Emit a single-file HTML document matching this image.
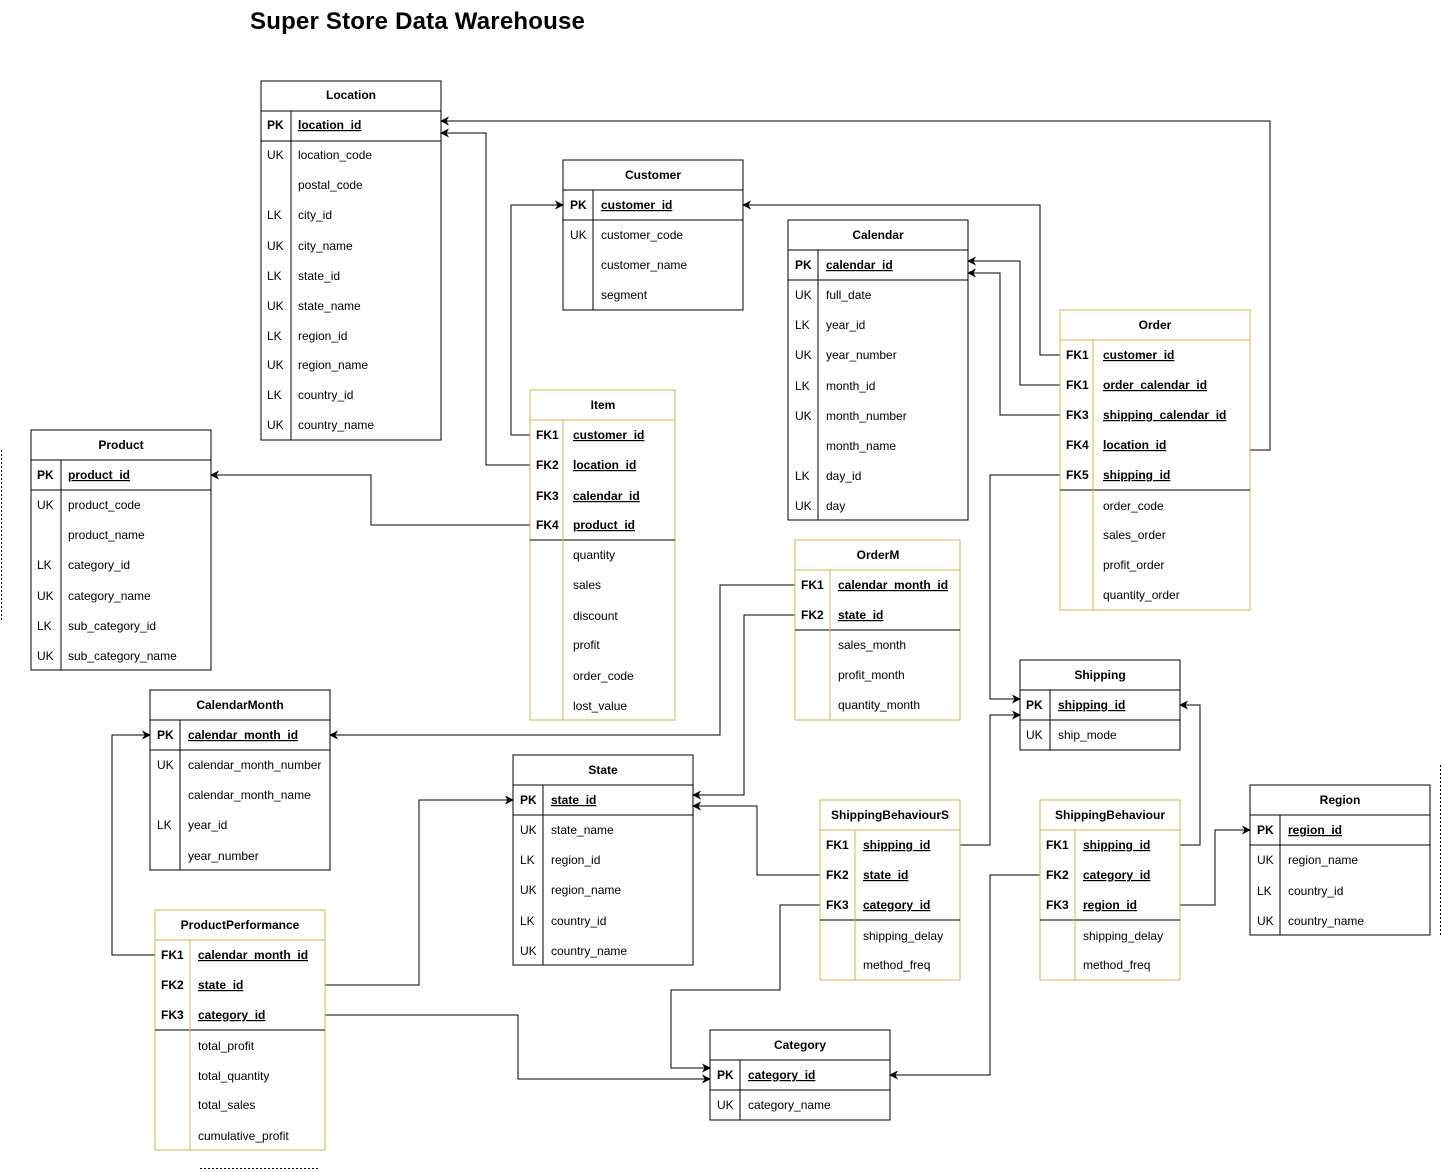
<!DOCTYPE html>
<html><head><meta charset="utf-8"><style>
html,body{margin:0;padding:0;background:#fff;}
svg{display:block;}
text{font-family:"Liberation Sans",Arial,sans-serif;font-size:12px;fill:#000;}
.h{font-weight:bold;text-anchor:middle;}
.k{font-weight:bold;}
.u{text-decoration:underline;font-weight:bold;}
.b{fill:none;stroke:#000;stroke-width:1;shape-rendering:crispEdges;}
.y{fill:none;stroke:#d6b656;stroke-width:1;shape-rendering:crispEdges;}
.c{fill:none;stroke:#000;stroke-width:1;marker-end:url(#a);shape-rendering:crispEdges;}
</style></head><body>
<svg width="1442" height="1172" viewBox="0 0 1442 1172" xmlns="http://www.w3.org/2000/svg">
<defs><marker id="a" viewBox="0 0 10 10" refX="9" refY="5" markerWidth="9" markerHeight="9" orient="auto" markerUnits="userSpaceOnUse"><path d="M0,0 L10,5 L0,10 L3,5 z" fill="#000"/></marker></defs>
<text x="250" y="29" style="font-size:24px;font-weight:bold;letter-spacing:0.2px">Super Store Data Warehouse</text>
<line x1="1.5" y1="450" x2="1.5" y2="620" stroke="#000" stroke-dasharray="2,2"/>
<line x1="1440.5" y1="765" x2="1440.5" y2="935" stroke="#000" stroke-dasharray="2,2"/>
<line x1="200" y1="1168.5" x2="318" y2="1168.5" stroke="#000" stroke-dasharray="2,2"/>

<!-- connectors -->
<polyline class="c" points="1250,450 1270,450 1270,121 441,121"/>
<polyline class="c" points="530,465 486,465 486,133 441,133"/>
<polyline class="c" points="530,435 511,435 511,205 563,205"/>
<polyline class="c" points="1060,355 1040,355 1040,205 743,205"/>
<polyline class="c" points="1060,385 1020,385 1020,261 968,261"/>
<polyline class="c" points="1060,415 1000,415 1000,273 968,273"/>
<polyline class="c" points="1060,475 990,475 990,699 1020,699"/>
<polyline class="c" points="530,525 371,525 371,475 211,475"/>
<polyline class="c" points="795,585 720,585 720,735 330,735"/>
<polyline class="c" points="795,615 744,615 744,795 693,795"/>
<polyline class="c" points="820,875 757,875 757,806 693,806"/>
<polyline class="c" points="960,845 990,845 990,715 1020,715"/>
<polyline class="c" points="820,905 780,905 780,990 671,990 671,1068 710,1068"/>
<polyline class="c" points="1180,845 1200,845 1200,705 1180,705"/>
<polyline class="c" points="1040,875 990,875 990,1075 890,1075"/>
<polyline class="c" points="1180,905 1215,905 1215,830 1250,830"/>
<polyline class="c" points="155,955 112,955 112,735 150,735"/>
<polyline class="c" points="325,985 419,985 419,800 513,800"/>
<polyline class="c" points="325,1015 518,1015 518,1079 710,1079"/>

<!-- Location -->
<rect x="261" y="81" width="180" height="359" fill="#fff" class="b"/>
<line class="b" x1="261" y1="111" x2="441" y2="111"/><line class="b" x1="261" y1="141" x2="441" y2="141"/><line class="b" x1="291" y1="111" x2="291" y2="440"/>
<text class="h" x="351" y="99">Location</text>
<text class="k" x="267" y="129">PK</text><text class="u" x="298" y="129">location_id</text>
<text x="267" y="159">UK</text><text x="298" y="159">location_code</text>
<text x="298" y="189">postal_code</text>
<text x="267" y="219">LK</text><text x="298" y="219">city_id</text>
<text x="267" y="250">UK</text><text x="298" y="250">city_name</text>
<text x="267" y="280">LK</text><text x="298" y="280">state_id</text>
<text x="267" y="310">UK</text><text x="298" y="310">state_name</text>
<text x="267" y="340">LK</text><text x="298" y="340">region_id</text>
<text x="267" y="369">UK</text><text x="298" y="369">region_name</text>
<text x="267" y="399">LK</text><text x="298" y="399">country_id</text>
<text x="267" y="429">UK</text><text x="298" y="429">country_name</text>

<!-- Customer -->
<rect x="563" y="160" width="180" height="150" fill="#fff" class="b"/>
<line class="b" x1="563" y1="190" x2="743" y2="190"/><line class="b" x1="563" y1="220" x2="743" y2="220"/><line class="b" x1="593" y1="190" x2="593" y2="310"/>
<text class="h" x="653" y="179">Customer</text>
<text class="k" x="570" y="209">PK</text><text class="u" x="601" y="209">customer_id</text>
<text x="570" y="239">UK</text><text x="601" y="239">customer_code</text>
<text x="601" y="269">customer_name</text>
<text x="601" y="299">segment</text>

<!-- Calendar -->
<rect x="788" y="220" width="180" height="300" fill="#fff" class="b"/>
<line class="b" x1="788" y1="250" x2="968" y2="250"/><line class="b" x1="788" y1="280" x2="968" y2="280"/><line class="b" x1="818" y1="250" x2="818" y2="520"/>
<text class="h" x="878" y="239">Calendar</text>
<text class="k" x="795" y="269">PK</text><text class="u" x="826" y="269">calendar_id</text>
<text x="795" y="299">UK</text><text x="826" y="299">full_date</text>
<text x="795" y="329">LK</text><text x="826" y="329">year_id</text>
<text x="795" y="359">UK</text><text x="826" y="359">year_number</text>
<text x="795" y="390">LK</text><text x="826" y="390">month_id</text>
<text x="795" y="420">UK</text><text x="826" y="420">month_number</text>
<text x="826" y="450">month_name</text>
<text x="795" y="480">LK</text><text x="826" y="480">day_id</text>
<text x="795" y="510">UK</text><text x="826" y="510">day</text>

<!-- Order -->
<rect x="1060" y="310" width="190" height="300" fill="#fff" class="y"/>
<rect x="1060" y="310" width="190" height="30" fill="#fff2cc" class="y"/>
<line class="b" x1="1060" y1="490" x2="1250" y2="490"/><line class="y" x1="1093" y1="340" x2="1093" y2="610"/>
<text class="h" x="1155" y="329">Order</text>
<text class="k" x="1066" y="359">FK1</text><text class="u" x="1103" y="359">customer_id</text>
<text class="k" x="1066" y="389">FK1</text><text class="u" x="1103" y="389">order_calendar_id</text>
<text class="k" x="1066" y="419">FK3</text><text class="u" x="1103" y="419">shipping_calendar_id</text>
<text class="k" x="1066" y="449">FK4</text><text class="u" x="1103" y="449">location_id</text>
<text class="k" x="1066" y="479">FK5</text><text class="u" x="1103" y="479">shipping_id</text>
<text x="1103" y="510">order_code</text>
<text x="1103" y="539">sales_order</text>
<text x="1103" y="569">profit_order</text>
<text x="1103" y="599">quantity_order</text>

<!-- Item -->
<rect x="530" y="390" width="145" height="330" fill="#fff" class="y"/>
<rect x="530" y="390" width="145" height="30" fill="#fff2cc" class="y"/>
<line class="b" x1="530" y1="540" x2="675" y2="540"/><line class="y" x1="563" y1="420" x2="563" y2="720"/>
<text class="h" x="603" y="409">Item</text>
<text class="k" x="536" y="439">FK1</text><text class="u" x="573" y="439">customer_id</text>
<text class="k" x="536" y="469">FK2</text><text class="u" x="573" y="469">location_id</text>
<text class="k" x="536" y="500">FK3</text><text class="u" x="573" y="500">calendar_id</text>
<text class="k" x="536" y="529">FK4</text><text class="u" x="573" y="529">product_id</text>
<text x="573" y="559">quantity</text>
<text x="573" y="589">sales</text>
<text x="573" y="620">discount</text>
<text x="573" y="649">profit</text>
<text x="573" y="680">order_code</text>
<text x="573" y="710">lost_value</text>

<!-- Product -->
<rect x="31" y="430" width="180" height="240" fill="#fff" class="b"/>
<line class="b" x1="31" y1="460" x2="211" y2="460"/><line class="b" x1="31" y1="490" x2="211" y2="490"/><line class="b" x1="61" y1="460" x2="61" y2="670"/>
<text class="h" x="121" y="449">Product</text>
<text class="k" x="37" y="479">PK</text><text class="u" x="68" y="479">product_id</text>
<text x="37" y="509">UK</text><text x="68" y="509">product_code</text>
<text x="68" y="539">product_name</text>
<text x="37" y="569">LK</text><text x="68" y="569">category_id</text>
<text x="37" y="600">UK</text><text x="68" y="600">category_name</text>
<text x="37" y="630">LK</text><text x="68" y="630">sub_category_id</text>
<text x="37" y="660">UK</text><text x="68" y="660">sub_category_name</text>

<!-- OrderM -->
<rect x="795" y="540" width="165" height="180" fill="#fff" class="y"/>
<rect x="795" y="540" width="165" height="30" fill="#fff2cc" class="y"/>
<line class="b" x1="795" y1="630" x2="960" y2="630"/><line class="y" x1="830" y1="570" x2="830" y2="720"/>
<text class="h" x="878" y="559">OrderM</text>
<text class="k" x="801" y="589">FK1</text><text class="u" x="838" y="589">calendar_month_id</text>
<text class="k" x="801" y="619">FK2</text><text class="u" x="838" y="619">state_id</text>
<text x="838" y="649">sales_month</text>
<text x="838" y="679">profit_month</text>
<text x="838" y="709">quantity_month</text>

<!-- Shipping -->
<rect x="1020" y="660" width="160" height="90" fill="#fff" class="b"/>
<line class="b" x1="1020" y1="690" x2="1180" y2="690"/><line class="b" x1="1020" y1="720" x2="1180" y2="720"/><line class="b" x1="1050" y1="690" x2="1050" y2="750"/>
<text class="h" x="1100" y="679">Shipping</text>
<text class="k" x="1026" y="709">PK</text><text class="u" x="1058" y="709">shipping_id</text>
<text x="1026" y="739">UK</text><text x="1058" y="739">ship_mode</text>

<!-- CalendarMonth -->
<rect x="150" y="690" width="180" height="180" fill="#fff" class="b"/>
<line class="b" x1="150" y1="720" x2="330" y2="720"/><line class="b" x1="150" y1="750" x2="330" y2="750"/><line class="b" x1="180" y1="720" x2="180" y2="870"/>
<text class="h" x="240" y="709">CalendarMonth</text>
<text class="k" x="157" y="739">PK</text><text class="u" x="188" y="739">calendar_month_id</text>
<text x="157" y="769">UK</text><text x="188" y="769">calendar_month_number</text>
<text x="188" y="799">calendar_month_name</text>
<text x="157" y="829">LK</text><text x="188" y="829">year_id</text>
<text x="188" y="860">year_number</text>

<!-- State -->
<rect x="513" y="755" width="180" height="210" fill="#fff" class="b"/>
<line class="b" x1="513" y1="785" x2="693" y2="785"/><line class="b" x1="513" y1="815" x2="693" y2="815"/><line class="b" x1="543" y1="785" x2="543" y2="965"/>
<text class="h" x="603" y="774">State</text>
<text class="k" x="520" y="804">PK</text><text class="u" x="551" y="804">state_id</text>
<text x="520" y="834">UK</text><text x="551" y="834">state_name</text>
<text x="520" y="864">LK</text><text x="551" y="864">region_id</text>
<text x="520" y="894">UK</text><text x="551" y="894">region_name</text>
<text x="520" y="925">LK</text><text x="551" y="925">country_id</text>
<text x="520" y="955">UK</text><text x="551" y="955">country_name</text>

<!-- ShippingBehaviourS -->
<rect x="820" y="800" width="140" height="180" fill="#fff" class="y"/>
<rect x="820" y="800" width="140" height="30" fill="#fff2cc" class="y"/>
<line class="b" x1="820" y1="920" x2="960" y2="920"/><line class="y" x1="855" y1="830" x2="855" y2="980"/>
<text class="h" x="890" y="819">ShippingBehaviourS</text>
<text class="k" x="826" y="849">FK1</text><text class="u" x="863" y="849">shipping_id</text>
<text class="k" x="826" y="879">FK2</text><text class="u" x="863" y="879">state_id</text>
<text class="k" x="826" y="909">FK3</text><text class="u" x="863" y="909">category_id</text>
<text x="863" y="940">shipping_delay</text>
<text x="863" y="969">method_freq</text>

<!-- ShippingBehaviour -->
<rect x="1040" y="800" width="140" height="180" fill="#fff" class="y"/>
<rect x="1040" y="800" width="140" height="30" fill="#fff2cc" class="y"/>
<line class="b" x1="1040" y1="920" x2="1180" y2="920"/><line class="y" x1="1075" y1="830" x2="1075" y2="980"/>
<text class="h" x="1110" y="819">ShippingBehaviour</text>
<text class="k" x="1046" y="849">FK1</text><text class="u" x="1083" y="849">shipping_id</text>
<text class="k" x="1046" y="879">FK2</text><text class="u" x="1083" y="879">category_id</text>
<text class="k" x="1046" y="909">FK3</text><text class="u" x="1083" y="909">region_id</text>
<text x="1083" y="940">shipping_delay</text>
<text x="1083" y="969">method_freq</text>

<!-- Region -->
<rect x="1250" y="785" width="180" height="150" fill="#fff" class="b"/>
<line class="b" x1="1250" y1="815" x2="1430" y2="815"/><line class="b" x1="1250" y1="845" x2="1430" y2="845"/><line class="b" x1="1280" y1="815" x2="1280" y2="935"/>
<text class="h" x="1340" y="804">Region</text>
<text class="k" x="1257" y="834">PK</text><text class="u" x="1288" y="834">region_id</text>
<text x="1257" y="864">UK</text><text x="1288" y="864">region_name</text>
<text x="1257" y="895">LK</text><text x="1288" y="895">country_id</text>
<text x="1257" y="925">UK</text><text x="1288" y="925">country_name</text>

<!-- ProductPerformance -->
<rect x="155" y="910" width="170" height="240" fill="#fff" class="y"/>
<rect x="155" y="910" width="170" height="30" fill="#fff2cc" class="y"/>
<line class="b" x1="155" y1="1030" x2="325" y2="1030"/><line class="y" x1="190" y1="940" x2="190" y2="1150"/>
<text class="h" x="240" y="929">ProductPerformance</text>
<text class="k" x="161" y="959">FK1</text><text class="u" x="198" y="959">calendar_month_id</text>
<text class="k" x="161" y="989">FK2</text><text class="u" x="198" y="989">state_id</text>
<text class="k" x="161" y="1019">FK3</text><text class="u" x="198" y="1019">category_id</text>
<text x="198" y="1050">total_profit</text>
<text x="198" y="1080">total_quantity</text>
<text x="198" y="1109">total_sales</text>
<text x="198" y="1140">cumulative_profit</text>

<!-- Category -->
<rect x="710" y="1030" width="180" height="90" fill="#fff" class="b"/>
<line class="b" x1="710" y1="1060" x2="890" y2="1060"/><line class="b" x1="710" y1="1090" x2="890" y2="1090"/><line class="b" x1="740" y1="1060" x2="740" y2="1120"/>
<text class="h" x="800" y="1049">Category</text>
<text class="k" x="717" y="1079">PK</text><text class="u" x="748" y="1079">category_id</text>
<text x="717" y="1109">UK</text><text x="748" y="1109">category_name</text>
</svg>
</body></html>
